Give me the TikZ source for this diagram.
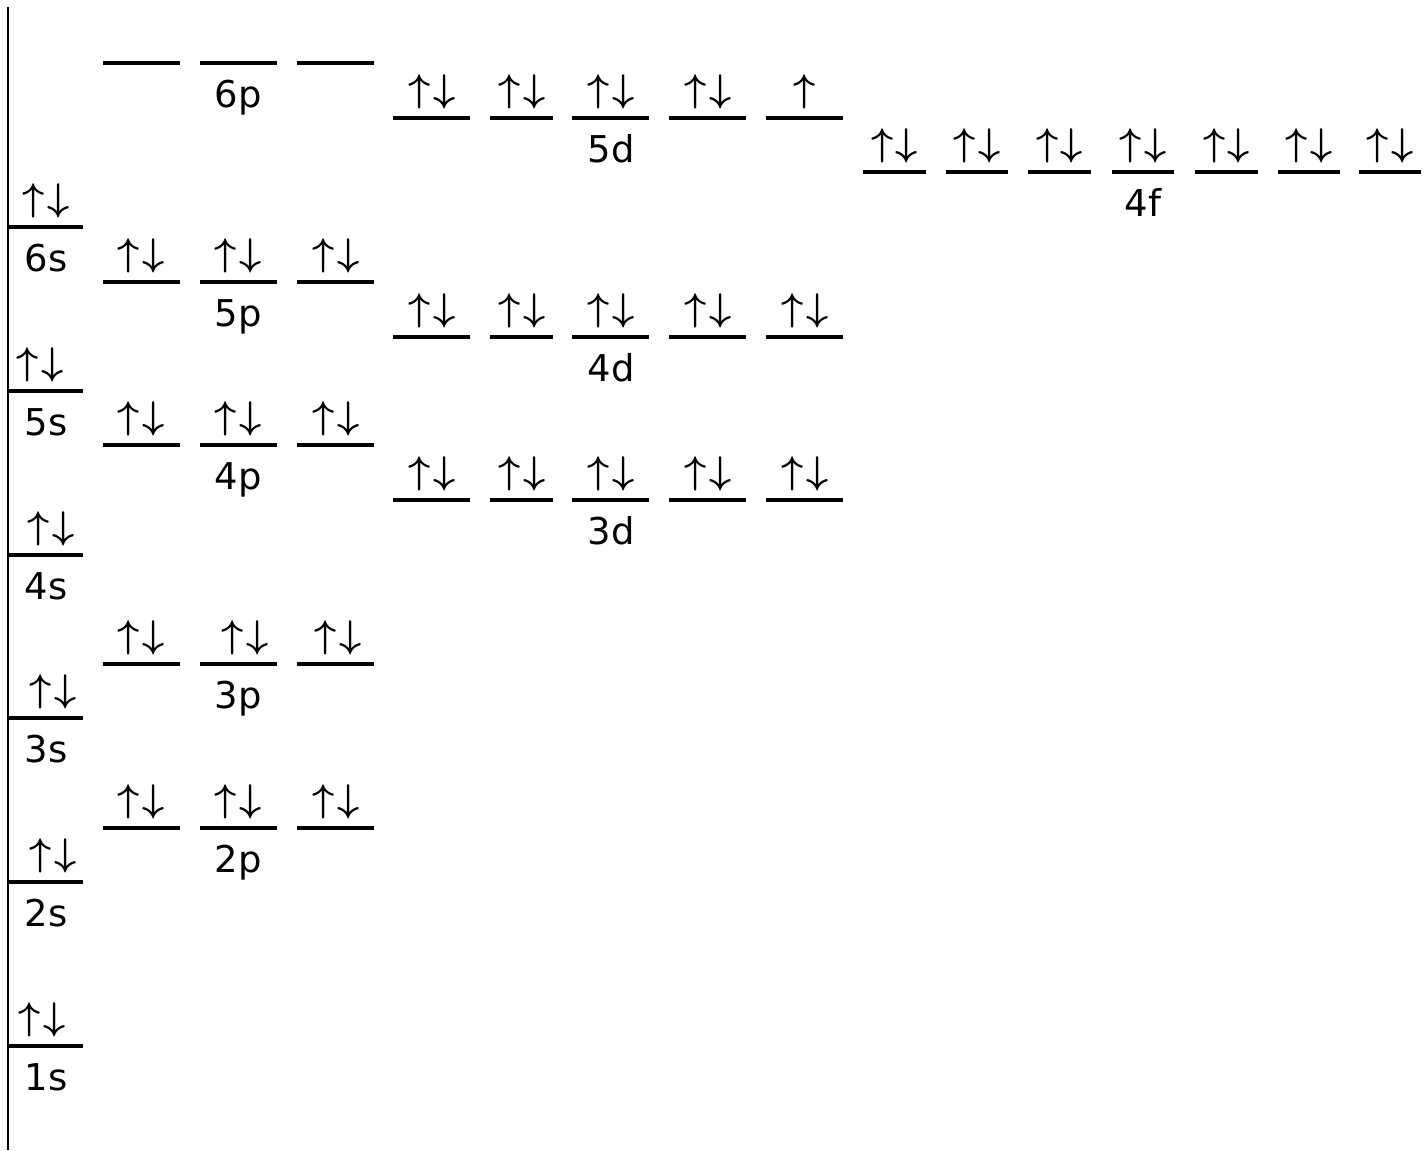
\documentclass[tikz,border=0pt]{standalone}
\usepackage{fontspec}
\setmainfont{DejaVu Sans}
\tikzset{
  lvl/.style={line width=0.95pt, draw=black},
  axis/.style={line width=0.75pt, draw=black},
  spin/.style={inner sep=0pt, font=\fontsize{11}{12}\selectfont\boldmath},
  tag/.style={inner sep=0pt, anchor=base, font=\fontsize{10.5}{12}\selectfont},
}
\newcommand{\pairud}{$\uparrow\mkern1mu\downarrow$}
\newcommand{\oneup}{$\uparrow$}

\begin{document}
\begin{tikzpicture}[x=0.01cm, y=-0.01cm]
  \useasboundingbox (0,0) rectangle (1425,1150);
  % energy axis
  \draw[axis] (8,7) -- (8,1150);
  % s levels
  \foreach \n/\y/\ex in {6/227/46, 5/391/40, 4/555/51, 3/718/53, 2/882/53, 1/1046/42} {
    \draw[lvl] (8,\y) -- (83,\y);
    \node[spin] (s\n e) at (\ex,\y-26) {\pairud};
    \node[tag] (s\n) at (46,\y+44) {\n s};
  }
  % p levels
  \foreach \n/\y in {6/63, 5/282, 4/445, 3/664, 2/828} {
    \foreach \a/\b in {103/180, 200/277, 297/374}
      \draw[lvl] (\a,\y) -- (\b,\y);
    \node[tag] (p\n) at (238,\y+44) {\n p};
  }
  \foreach \n/\y/\xa/\xb/\xc in {5/282/141/238/336, 4/445/141/238/336, 3/664/141/245/338, 2/828/141/238/336} {
    \node[spin] (p\n e1) at (\xa,\y-26) {\pairud};
    \node[spin] (p\n e2) at (\xb,\y-26) {\pairud};
    \node[spin] (p\n e3) at (\xc,\y-26) {\pairud};
  }
  % d levels
  \foreach \n/\y in {5/118, 4/337, 3/500} {
    \foreach \a/\b in {393/470, 490/553, 572/649, 669/746, 766/843}
      \draw[lvl] (\a,\y) -- (\b,\y);
    \node[tag] (d\n) at (611,\y+44) {\n d};
  }
  \foreach \n/\y in {5/118, 4/337, 3/500}
    \foreach \x [count=\i] in {432, 522, 611, 708}
      \node[spin] (d\n e\i) at (\x,\y-26) {\pairud};
  \node[spin] (d5e5) at (805,92) {\oneup};
  \node[spin] (d4e5) at (805,311) {\pairud};
  \node[spin] (d3e5) at (805,474) {\pairud};
  % f levels
  \foreach \a/\b [count=\i] in {863/926, 946/1008, 1028/1091, 1112/1174, 1195/1258, 1278/1340, 1359/1421} {
    \draw[lvl] (\a,172) -- (\b,172);
    \node[spin] (f4e\i) at ({(\a+\b)/2},146) {\pairud};
  }
  \node[tag] (f4) at (1143,216) {4f};
\end{tikzpicture}
\end{document}
